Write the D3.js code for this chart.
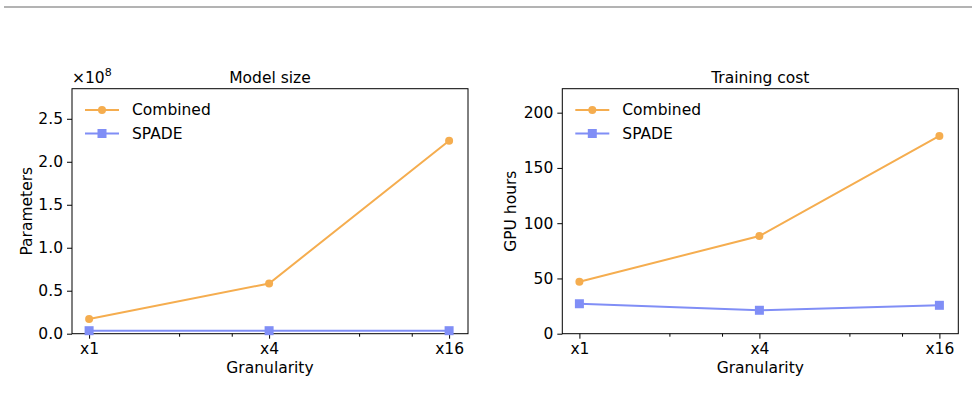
<!DOCTYPE html>
<html>
<head>
<meta charset="utf-8">
<script src="https://cdn.jsdelivr.net/npm/d3@7"></script>
<style>
  body { margin: 0; background: #fff; }
  svg { display: block; font-family: "DejaVu Sans", sans-serif; }
</style>
</head>
<body>
<svg id="chart" width="977" height="412"></svg>
<script>
// data
const granularity = [1, 4, 16];
const granularityLabels = ["x1", "x4", "x16"];
const minorTicks = [2, 3, 8, 12];

const paramsCombined = [0.17e8, 0.584e8, 2.245e8];
const paramsSpade = [0.035e8, 0.035e8, 0.035e8];
const paramTicks = [0, 0.5e8, 1.0e8, 1.5e8, 2.0e8, 2.5e8];

const gpuCombined = [47, 88.4, 179];
const gpuSpade = [27.1, 21.2, 25.7];
const gpuTicks = [0, 50, 100, 150, 200];

const seriesNames = ["Combined", "SPADE"];
const orange = "#f5ad4f";
const blue = "#808ef6";
const fontSize = 15.5;
const font = "DejaVu Sans, sans-serif";

const svg = d3.select("#chart");

// thin rule at the top of the page
svg.append("line")
  .attr("x1", 4).attr("x2", 972)
  .attr("y1", 7).attr("y2", 7)
  .attr("stroke", "#9a9a9a")
  .attr("stroke-width", 1.5);

const panels = [
  {
    title: "Model size", ylabel: "Parameters",
    left: 72, right: 468, top: 88.7, bottom: 333.7,
    ymax: 2.85e8, yticks: paramTicks,
    fmt: (d) => (d / 1e8).toFixed(1),
    combined: paramsCombined, spade: paramsSpade,
    ylabelX: 27, offset: true
  },
  {
    title: "Training cost", ylabel: "GPU hours",
    left: 562.3, right: 958.3, top: 88.7, bottom: 333.7,
    ymax: 221.7, yticks: gpuTicks,
    fmt: (d) => d,
    combined: gpuCombined, spade: gpuSpade,
    ylabelX: 511, offset: false
  }
];

panels.forEach((p) => {
  const x = d3.scaleLog()
    .base(2)
    .domain([Math.pow(2, -0.19), Math.pow(2, 4.21)])
    .range([p.left, p.right]);

  const y = d3.scaleLinear()
    .domain([0, p.ymax])
    .range([p.bottom, p.top]);

  const g = svg.append("g");

  // x axis, major + minor
  const xAxis = g.append("g")
    .attr("transform", `translate(0,${p.bottom})`)
    .call(d3.axisBottom(x)
      .tickValues(granularity)
      .tickFormat((d, i) => granularityLabels[i])
      .tickSize(5).tickPadding(4))
    .attr("font-size", fontSize)
    .attr("font-family", font);
  xAxis.select(".domain").remove();
  xAxis.selectAll("text").attr("fill", "#000");

  const xMinor = g.append("g")
    .attr("transform", `translate(0,${p.bottom})`)
    .call(d3.axisBottom(x).tickValues(minorTicks).tickFormat("").tickSize(3));
  xMinor.select(".domain").remove();

  // y axis
  const yAxis = g.append("g")
    .attr("transform", `translate(${p.left},0)`)
    .call(d3.axisLeft(y)
      .tickValues(p.yticks)
      .tickFormat(p.fmt)
      .tickSize(5).tickPadding(4))
    .attr("font-size", fontSize)
    .attr("font-family", font);
  yAxis.select(".domain").remove();
  yAxis.selectAll("text").attr("fill", "#000");

  // frame
  g.append("rect")
    .attr("x", p.left).attr("y", p.top)
    .attr("width", p.right - p.left)
    .attr("height", p.bottom - p.top)
    .attr("fill", "none")
    .attr("stroke", "#000")
    .attr("stroke-width", 1);

  // titles
  g.append("text")
    .attr("x", (p.left + p.right) / 2)
    .attr("y", 83)
    .attr("text-anchor", "middle")
    .attr("font-size", fontSize)
    .text(p.title);

  g.append("text")
    .attr("x", (p.left + p.right) / 2)
    .attr("y", 373)
    .attr("text-anchor", "middle")
    .attr("font-size", fontSize)
    .text("Granularity");

  g.append("text")
    .attr("transform", `translate(${p.ylabelX},${(p.top + p.bottom) / 2}) rotate(-90)`)
    .attr("text-anchor", "middle")
    .attr("dy", "0.35em")
    .attr("font-size", fontSize)
    .text(p.ylabel);

  if (p.offset) {
    const t = g.append("text")
      .attr("x", p.left)
      .attr("y", 83)
      .attr("font-size", fontSize);
    t.append("tspan").text("\u00d710");
    t.append("tspan").attr("dy", -7).attr("font-size", 11).text("8");
  }

  const line = d3.line()
    .x((d, i) => x(granularity[i]))
    .y((d) => y(d));

  // SPADE first so Combined sits on top
  g.append("path")
    .datum(p.spade)
    .attr("fill", "none")
    .attr("stroke", blue)
    .attr("stroke-width", 2)
    .attr("d", line);
  g.selectAll(".sq")
    .data(p.spade)
    .enter()
    .append("rect")
    .attr("x", (d, i) => x(granularity[i]) - 4.5)
    .attr("y", (d) => y(d) - 4.5)
    .attr("width", 9).attr("height", 9)
    .attr("fill", blue);

  g.append("path")
    .datum(p.combined)
    .attr("fill", "none")
    .attr("stroke", orange)
    .attr("stroke-width", 2)
    .attr("d", line);
  g.selectAll(".dot")
    .data(p.combined)
    .enter()
    .append("circle")
    .attr("cx", (d, i) => x(granularity[i]))
    .attr("cy", (d) => y(d))
    .attr("r", 4)
    .attr("fill", orange);

  // legend
  const lg = g.append("g");
  seriesNames.forEach((name, i) => {
    const ly = 110 + i * 23.5;
    const lx = p.left + 13;
    const col = i === 0 ? orange : blue;
    lg.append("line")
      .attr("x1", lx).attr("x2", lx + 34)
      .attr("y1", ly).attr("y2", ly)
      .attr("stroke", col).attr("stroke-width", 2);
    if (i === 0) {
      lg.append("circle").attr("cx", lx + 17).attr("cy", ly).attr("r", 4).attr("fill", col);
    } else {
      lg.append("rect").attr("x", lx + 12.5).attr("y", ly - 4.5)
        .attr("width", 9).attr("height", 9).attr("fill", col);
    }
    lg.append("text")
      .attr("x", lx + 47)
      .attr("y", ly)
      .attr("dy", "0.35em")
      .attr("font-size", fontSize)
      .text(name);
  });
});
</script>
</body>
</html>
